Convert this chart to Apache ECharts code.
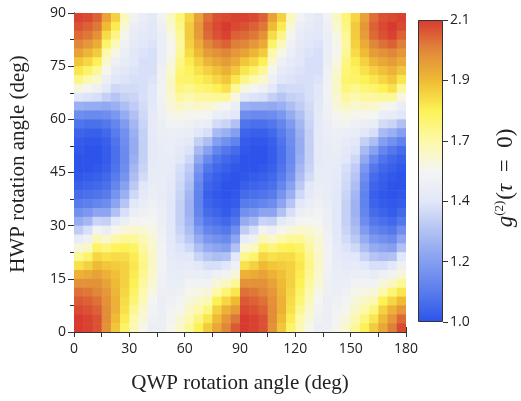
<!DOCTYPE html>
<html><head><meta charset="utf-8">
<script src="https://cdn.jsdelivr.net/npm/echarts@6/dist/echarts.min.js"></script>
<style>html,body{margin:0;padding:0;background:#fff}#c{width:521px;height:401px}</style>
</head><body><div id="c"></div>
<script>
// QWP angle cell centres (deg)
const qwpCenters = [2.5,7.5,12.5,17.5,22.5,27.5,32.5,37.5,42.5,47.5,52.5,57.5,62.5,67.5,72.5,77.5,82.5,87.5,
  92.5,97.5,102.5,107.5,112.5,117.5,122.5,127.5,132.5,137.5,142.5,147.5,152.5,157.5,162.5,167.5,172.5,177.5];
// HWP angle cell centres (deg), top first
const hwpCenters = [88.75,86.25,83.75,81.25,78.75,76.25,73.75,71.25,68.75,66.25,63.75,61.25,58.75,56.25,53.75,51.25,48.75,46.25,
  43.75,41.25,38.75,36.25,33.75,31.25,28.75,26.25,23.75,21.25,18.75,16.25,13.75,11.25,8.75,6.25,3.75,1.25];
// g2(tau=0): one column per QWP centre, values listed top (HWP 88.75) to bottom (HWP 1.25)
const g2Cols = [
 [2.09,2.07,2.04,2.00,1.95,1.88,1.82,1.74,1.60,1.40,1.25,1.15,1.08,1.04,1.02,1.01,1.00,1.00,1.01,1.03,1.06,1.10,1.16,1.24,1.33,1.45,1.60,1.73,1.83,1.92,1.98,2.03,2.06,2.08,2.10,2.10],
 [2.08,2.05,2.02,1.97,1.91,1.85,1.78,1.69,1.55,1.39,1.24,1.14,1.07,1.03,1.01,1.00,1.00,1.00,1.02,1.04,1.07,1.11,1.18,1.27,1.38,1.50,1.65,1.77,1.86,1.93,1.98,2.02,2.05,2.07,2.09,2.09],
 [2.05,2.02,1.98,1.93,1.87,1.80,1.72,1.63,1.50,1.38,1.24,1.14,1.07,1.03,1.01,1.00,1.00,1.01,1.03,1.05,1.08,1.13,1.22,1.35,1.52,1.67,1.78,1.85,1.90,1.95,1.98,2.00,2.03,2.05,2.07,2.07],
 [1.95,1.90,1.84,1.77,1.70,1.63,1.56,1.49,1.42,1.34,1.23,1.15,1.09,1.05,1.03,1.02,1.02,1.03,1.05,1.07,1.10,1.15,1.22,1.34,1.48,1.63,1.75,1.83,1.88,1.92,1.95,1.97,1.98,1.99,1.99,1.98],
 [1.86,1.81,1.74,1.66,1.58,1.50,1.44,1.40,1.36,1.31,1.25,1.18,1.13,1.10,1.08,1.07,1.07,1.08,1.10,1.13,1.17,1.22,1.30,1.42,1.56,1.70,1.79,1.84,1.87,1.89,1.90,1.91,1.92,1.92,1.90,1.88],
 [1.66,1.61,1.56,1.51,1.47,1.44,1.41,1.39,1.37,1.34,1.29,1.24,1.19,1.16,1.15,1.14,1.14,1.15,1.17,1.21,1.25,1.31,1.38,1.48,1.60,1.72,1.80,1.84,1.86,1.86,1.86,1.85,1.84,1.83,1.81,1.78],
 [1.52,1.48,1.45,1.43,1.41,1.40,1.39,1.38,1.37,1.35,1.33,1.30,1.27,1.25,1.24,1.24,1.25,1.27,1.29,1.32,1.36,1.41,1.47,1.54,1.63,1.72,1.78,1.81,1.82,1.81,1.80,1.78,1.76,1.73,1.70,1.67],
 [1.46,1.44,1.42,1.40,1.39,1.38,1.38,1.38,1.38,1.38,1.37,1.36,1.35,1.34,1.34,1.34,1.34,1.35,1.37,1.40,1.43,1.46,1.50,1.55,1.61,1.67,1.71,1.73,1.74,1.73,1.71,1.69,1.66,1.63,1.60,1.57],
 [1.42,1.41,1.40,1.39,1.38,1.38,1.38,1.39,1.40,1.41,1.42,1.43,1.43,1.43,1.43,1.43,1.43,1.44,1.45,1.46,1.48,1.50,1.52,1.55,1.58,1.61,1.63,1.64,1.64,1.63,1.61,1.58,1.55,1.52,1.50,1.48],
 [1.52,1.50,1.48,1.47,1.47,1.48,1.50,1.51,1.52,1.52,1.51,1.50,1.48,1.47,1.46,1.45,1.45,1.45,1.45,1.45,1.45,1.46,1.47,1.48,1.50,1.51,1.52,1.52,1.52,1.51,1.50,1.49,1.48,1.48,1.48,1.49],
 [1.65,1.62,1.58,1.56,1.56,1.58,1.62,1.64,1.64,1.62,1.60,1.56,1.52,1.49,1.47,1.46,1.45,1.44,1.43,1.42,1.41,1.40,1.40,1.40,1.41,1.42,1.43,1.44,1.45,1.46,1.47,1.48,1.50,1.52,1.54,1.56],
 [1.76,1.74,1.72,1.71,1.72,1.74,1.76,1.77,1.75,1.71,1.65,1.58,1.52,1.47,1.44,1.42,1.40,1.38,1.37,1.36,1.35,1.34,1.34,1.34,1.35,1.37,1.39,1.41,1.43,1.45,1.47,1.50,1.53,1.56,1.60,1.63],
 [1.85,1.87,1.87,1.86,1.84,1.81,1.79,1.77,1.73,1.68,1.62,1.56,1.50,1.46,1.42,1.39,1.36,1.33,1.31,1.29,1.27,1.26,1.26,1.27,1.29,1.32,1.36,1.40,1.44,1.48,1.52,1.56,1.60,1.64,1.68,1.72],
 [1.95,1.97,1.96,1.93,1.90,1.86,1.83,1.80,1.76,1.71,1.64,1.56,1.48,1.41,1.34,1.28,1.23,1.18,1.15,1.13,1.12,1.12,1.13,1.15,1.19,1.24,1.29,1.35,1.41,1.47,1.52,1.58,1.64,1.70,1.75,1.80],
 [2.03,2.05,2.04,2.00,1.96,1.91,1.86,1.82,1.77,1.71,1.63,1.55,1.46,1.38,1.29,1.21,1.14,1.09,1.06,1.04,1.03,1.04,1.06,1.09,1.13,1.18,1.24,1.31,1.38,1.45,1.52,1.60,1.68,1.75,1.82,1.87],
 [2.07,2.08,2.07,2.03,1.98,1.94,1.89,1.85,1.80,1.72,1.58,1.47,1.37,1.28,1.20,1.13,1.08,1.05,1.03,1.02,1.01,1.02,1.04,1.07,1.11,1.16,1.22,1.29,1.38,1.50,1.60,1.70,1.80,1.86,1.90,1.94],
 [2.08,2.10,2.09,2.05,2.00,1.96,1.92,1.88,1.83,1.72,1.55,1.45,1.35,1.25,1.16,1.09,1.05,1.03,1.01,1.00,1.00,1.01,1.02,1.05,1.09,1.14,1.20,1.30,1.40,1.52,1.65,1.76,1.85,1.92,1.97,2.00],
 [2.09,2.08,2.05,2.01,1.97,1.93,1.88,1.82,1.72,1.58,1.48,1.40,1.30,1.20,1.12,1.06,1.03,1.01,1.00,1.00,1.01,1.02,1.05,1.09,1.15,1.22,1.30,1.40,1.50,1.60,1.72,1.82,1.90,1.96,2.02,2.06],
 [2.09,2.07,2.04,2.00,1.95,1.88,1.82,1.74,1.60,1.40,1.25,1.15,1.08,1.04,1.02,1.01,1.00,1.00,1.01,1.03,1.06,1.10,1.16,1.24,1.33,1.45,1.60,1.73,1.83,1.92,1.98,2.03,2.06,2.08,2.10,2.10],
 [2.08,2.05,2.02,1.97,1.91,1.85,1.78,1.69,1.55,1.39,1.24,1.14,1.07,1.03,1.01,1.00,1.00,1.00,1.02,1.04,1.07,1.11,1.18,1.27,1.38,1.50,1.65,1.77,1.86,1.93,1.98,2.02,2.05,2.07,2.09,2.09],
 [2.05,2.02,1.98,1.93,1.87,1.80,1.72,1.63,1.50,1.38,1.24,1.14,1.07,1.03,1.01,1.00,1.00,1.01,1.03,1.05,1.08,1.13,1.22,1.35,1.52,1.67,1.78,1.85,1.90,1.95,1.98,2.00,2.03,2.05,2.07,2.07],
 [1.95,1.90,1.84,1.77,1.70,1.63,1.56,1.49,1.42,1.34,1.23,1.15,1.09,1.05,1.03,1.02,1.02,1.03,1.05,1.07,1.10,1.15,1.22,1.34,1.48,1.63,1.75,1.83,1.88,1.92,1.95,1.97,1.98,1.99,1.99,1.98],
 [1.86,1.81,1.74,1.66,1.58,1.50,1.44,1.40,1.36,1.31,1.25,1.18,1.13,1.10,1.08,1.07,1.07,1.08,1.10,1.13,1.17,1.22,1.30,1.42,1.56,1.70,1.79,1.84,1.87,1.89,1.90,1.91,1.92,1.92,1.90,1.88],
 [1.66,1.61,1.56,1.51,1.47,1.44,1.41,1.39,1.37,1.34,1.29,1.24,1.19,1.16,1.15,1.14,1.14,1.15,1.17,1.21,1.25,1.31,1.38,1.48,1.60,1.72,1.80,1.84,1.86,1.86,1.86,1.85,1.84,1.83,1.81,1.78],
 [1.52,1.48,1.45,1.43,1.41,1.40,1.39,1.38,1.37,1.35,1.33,1.30,1.27,1.25,1.24,1.24,1.25,1.27,1.29,1.32,1.36,1.41,1.47,1.54,1.63,1.72,1.78,1.81,1.82,1.81,1.80,1.78,1.76,1.73,1.70,1.67],
 [1.46,1.44,1.42,1.40,1.39,1.38,1.38,1.38,1.38,1.38,1.37,1.36,1.35,1.34,1.34,1.34,1.34,1.35,1.37,1.40,1.43,1.46,1.50,1.55,1.61,1.67,1.71,1.73,1.74,1.73,1.71,1.69,1.66,1.63,1.60,1.57],
 [1.42,1.41,1.40,1.39,1.38,1.38,1.38,1.39,1.40,1.41,1.42,1.43,1.43,1.43,1.43,1.43,1.43,1.44,1.45,1.46,1.48,1.50,1.52,1.55,1.58,1.61,1.63,1.64,1.64,1.63,1.61,1.58,1.55,1.52,1.50,1.48],
 [1.52,1.50,1.48,1.47,1.47,1.48,1.50,1.51,1.52,1.52,1.51,1.50,1.48,1.47,1.46,1.45,1.45,1.45,1.45,1.45,1.45,1.46,1.47,1.48,1.50,1.51,1.52,1.52,1.52,1.51,1.50,1.49,1.48,1.48,1.48,1.49],
 [1.65,1.62,1.58,1.56,1.56,1.58,1.62,1.64,1.64,1.62,1.60,1.56,1.52,1.49,1.47,1.46,1.45,1.44,1.43,1.42,1.41,1.40,1.40,1.40,1.41,1.42,1.43,1.44,1.45,1.46,1.47,1.48,1.50,1.52,1.54,1.56],
 [1.76,1.74,1.72,1.71,1.72,1.74,1.76,1.77,1.75,1.71,1.65,1.58,1.52,1.47,1.44,1.42,1.40,1.38,1.37,1.36,1.35,1.34,1.34,1.34,1.35,1.37,1.39,1.41,1.43,1.45,1.47,1.50,1.53,1.56,1.60,1.63],
 [1.85,1.87,1.87,1.86,1.84,1.81,1.79,1.77,1.73,1.68,1.62,1.56,1.50,1.46,1.42,1.39,1.36,1.33,1.31,1.29,1.27,1.26,1.26,1.27,1.29,1.32,1.36,1.40,1.44,1.48,1.52,1.56,1.60,1.64,1.68,1.72],
 [1.95,1.97,1.96,1.93,1.90,1.86,1.83,1.80,1.76,1.71,1.64,1.56,1.48,1.41,1.34,1.28,1.23,1.18,1.15,1.13,1.12,1.12,1.13,1.15,1.19,1.24,1.29,1.35,1.41,1.47,1.52,1.58,1.64,1.70,1.75,1.80],
 [2.03,2.05,2.04,2.00,1.96,1.91,1.86,1.82,1.77,1.71,1.63,1.55,1.46,1.38,1.29,1.21,1.14,1.09,1.06,1.04,1.03,1.04,1.06,1.09,1.13,1.18,1.24,1.31,1.38,1.45,1.52,1.60,1.68,1.75,1.82,1.87],
 [2.07,2.08,2.07,2.03,1.98,1.94,1.89,1.85,1.80,1.72,1.58,1.47,1.37,1.28,1.20,1.13,1.08,1.05,1.03,1.02,1.01,1.02,1.04,1.07,1.11,1.16,1.22,1.29,1.38,1.50,1.60,1.70,1.80,1.86,1.90,1.94],
 [2.08,2.10,2.09,2.05,2.00,1.96,1.92,1.88,1.83,1.72,1.55,1.45,1.35,1.25,1.16,1.09,1.05,1.03,1.01,1.00,1.00,1.01,1.02,1.05,1.09,1.14,1.20,1.30,1.40,1.52,1.65,1.76,1.85,1.92,1.97,2.01],
 [2.09,2.08,2.05,2.01,1.97,1.93,1.88,1.82,1.72,1.58,1.48,1.40,1.30,1.20,1.12,1.06,1.03,1.01,1.00,1.00,1.01,1.02,1.05,1.09,1.15,1.22,1.30,1.40,1.50,1.60,1.72,1.82,1.90,1.97,2.04,2.08]
];
// colour-bar tick values (evenly spaced on the bar) and colours
const cbTicks = [1.0, 1.2, 1.4, 1.7, 1.9, 2.1];
const cbTickLabels = ['1.0', '1.2', '1.4', '1.7', '1.9', '2.1'];
const cbColors = ['#2c54ea','#587cec','#849ef0','#b1c1f3','#e2e7f9','#f4f5f2','#fdf9a8','#fdf255','#efbb35','#e0883a','#d83a30'];
const xTicks = [0, 30, 60, 90, 120, 150, 180];
const yTicks = [0, 15, 30, 45, 60, 75, 90];

function toPos(v) {
  if (v <= cbTicks[0]) return 0;
  for (let i = 0; i < cbTicks.length - 1; i++) {
    if (v <= cbTicks[i + 1]) return i + (v - cbTicks[i]) / (cbTicks[i + 1] - cbTicks[i]);
  }
  return cbTicks.length - 1;
}

const data = [];
qwpCenters.forEach((q, c) => {
  hwpCenters.forEach((h, r) => {
    const v = g2Cols[c][r];
    data.push([q, h, v, toPos(v)]);
  });
});
const halfQ = (qwpCenters[1] - qwpCenters[0]) / 2;
const halfH = (hwpCenters[0] - hwpCenters[1]) / 2;

const chart = echarts.init(document.getElementById('c'), null, {renderer: 'canvas'});
const tickFont = {fontFamily: 'Open Sans', fontSize: 14, color: '#222'};
const lineStyle = {color: '#333', width: 1};
const gradStops = cbColors.map((c, i) => ({offset: i / (cbColors.length - 1), color: c}));

chart.setOption({
  animation: false,
  backgroundColor: '#fff',
  grid: [
    {left: 74, top: 13, width: 332, height: 319},
    {left: 418, top: 20, width: 25, height: 302}
  ],
  xAxis: [
    {gridIndex: 0, type: 'value', min: xTicks[0], max: xTicks[xTicks.length - 1], interval: 30, position: 'bottom',
     axisLine: {show: true, lineStyle}, axisTick: {show: true, inside: false, length: 5, lineStyle},
     minorTick: {show: true, splitNumber: 2, length: 5, lineStyle},
     axisLabel: Object.assign({margin: 10}, tickFont), splitLine: {show: false}},
    {gridIndex: 0, type: 'value', min: 0, max: 180, interval: 15, position: 'top',
     axisLine: {show: true, lineStyle}, axisTick: {show: true, inside: false, length: 5, lineStyle},
     axisLabel: {show: false}, splitLine: {show: false}},
    {gridIndex: 1, type: 'category', data: [''], show: false}
  ],
  yAxis: [
    {gridIndex: 0, type: 'value', min: yTicks[0], max: yTicks[yTicks.length - 1], interval: 15, position: 'left',
     axisLine: {show: true, lineStyle}, axisTick: {show: true, inside: false, length: 6, lineStyle},
     minorTick: {show: true, splitNumber: 2, length: 4, lineStyle},
     axisLabel: Object.assign({margin: 8}, tickFont), splitLine: {show: false}},
    {gridIndex: 0, type: 'value', min: 0, max: 90, interval: 7.5, position: 'right',
     axisLine: {show: true, lineStyle}, axisTick: {show: true, inside: false, length: 5, lineStyle},
     axisLabel: {show: false}, splitLine: {show: false}},
    {gridIndex: 1, type: 'value', min: 0, max: cbTicks.length - 1, interval: 1, position: 'right',
     axisLine: {show: false}, axisTick: {show: true, inside: false, length: 5, lineStyle},
     axisLabel: Object.assign({margin: 7, formatter: v => cbTickLabels[v]}, tickFont), splitLine: {show: false}}
  ],
  visualMap: {
    show: false, type: 'continuous', seriesIndex: 0, dimension: 3,
    min: 0, max: cbTicks.length - 1, inRange: {color: cbColors}
  },
  series: [
    {
      type: 'custom', xAxisIndex: 0, yAxisIndex: 0, clip: true,
      encode: {x: 0, y: 1},
      data: data,
      renderItem: function (params, api) {
        const q = api.value(0), h = api.value(1);
        const p0 = api.coord([q - halfQ, h + halfH]);
        const p1 = api.coord([q + halfQ, h - halfH]);
        return {
          type: 'rect',
          shape: {x: p0[0], y: p0[1], width: p1[0] - p0[0] + 0.6, height: p1[1] - p0[1] + 0.6},
          style: {fill: api.visual('color')}
        };
      }
    },
    {
      type: 'bar', xAxisIndex: 2, yAxisIndex: 2, barWidth: '100%', silent: true,
      data: [cbTicks.length - 1],
      itemStyle: {color: new echarts.graphic.LinearGradient(0, 1, 0, 0, gradStops), borderColor: '#333', borderWidth: 1}
    }
  ],
  graphic: [
    {type: 'text', x: 240, y: 383, style: {text: 'QWP rotation angle (deg)', font: '21px "Liberation Serif"', fill: '#222', align: 'center', verticalAlign: 'middle'}},
    {type: 'text', x: 18, y: 164, rotation: Math.PI / 2, style: {text: 'HWP rotation angle (deg)', font: '21px "Liberation Serif"', fill: '#222', align: 'center', verticalAlign: 'middle'}},
    {type: 'text', x: 506, y: 178, rotation: Math.PI / 2, style: {
      text: '{g|g}{s|(2)}{n|(}{t|τ}{n|\u2002=\u20020)}', align: 'center', verticalAlign: 'middle', fill: '#222',
      rich: {
        g: {fontFamily: 'Liberation Serif', fontStyle: 'italic', fontSize: 23, fill: '#222'},
        s: {fontFamily: 'Liberation Serif', fontSize: 13, fill: '#222', verticalAlign: 'top', padding: [0, 1, 12, 0]},
        n: {fontFamily: 'Liberation Serif', fontSize: 23, fill: '#222'},
        t: {fontFamily: 'Liberation Serif', fontStyle: 'italic', fontSize: 23, fill: '#222'}
      }
    }}
  ]
});
</script>
</body></html>
